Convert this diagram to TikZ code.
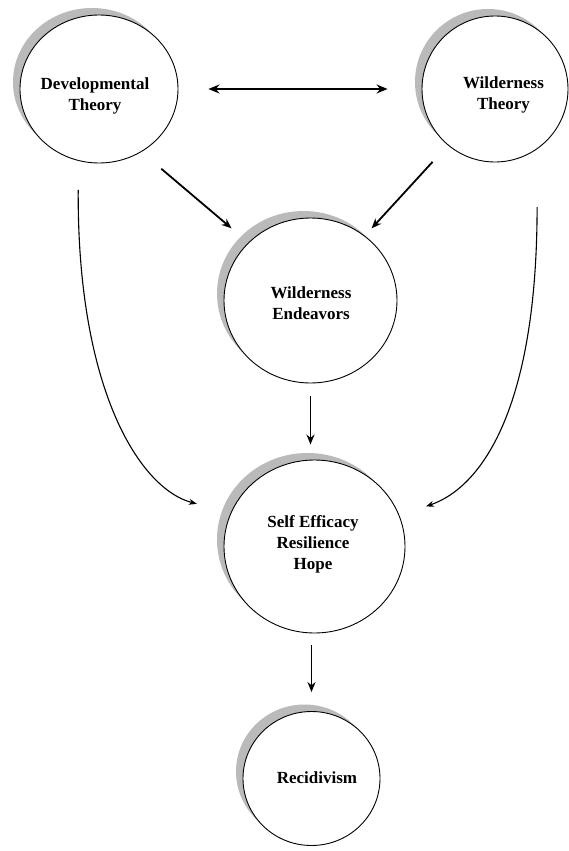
\documentclass[tikz,border=0pt]{standalone}
\usepackage{fontspec}
\setmainfont{Liberation Serif}
\usetikzlibrary{arrows.meta,shapes.geometric,shadows}
\begin{document}
\begin{tikzpicture}[x=1pt,y=-1pt,
  bub/.style={ellipse, draw=black, line width=0.9pt, fill=white, inner sep=0pt,
    drop shadow={shadow xshift=-7pt, shadow yshift=7pt, fill=black!27, opacity=1}},
  lbl/.style={align=center, inner sep=0pt, font=\bfseries\fontsize{17}{21}\selectfont},
  arr/.style={line width=1.8pt, -{Stealth[length=10pt,width=8pt]}},
  darr/.style={line width=1.8pt, {Stealth[length=11pt,width=9pt]}-{Stealth[length=11pt,width=9pt]}},
  carr/.style={line width=1.1pt, -{Stealth[length=8pt,width=6pt]}}]
\useasboundingbox (0,0) rectangle (569,851);
\fill[white] (0,0) rectangle (569,851);

\node[bub, minimum width=158pt, minimum height=148pt] (dev) at (99,89) {};
\node[bub, minimum width=146pt, minimum height=146pt] (wt) at (495,89) {};
\node[bub, minimum width=173pt, minimum height=165pt] (we) at (310.5,300.5) {};
\node[bub, minimum width=181pt, minimum height=173pt] (se) at (314.5,546.5) {};
\node[bub, minimum width=137pt, minimum height=134pt] (rec) at (311.5,778.5) {};

\node[lbl] (devt) at (95,95.5) {Developmental\\Theory};
\node[lbl] (wtt) at (503.5,95) {Wilderness\\Theory};
\node[lbl] (wet) at (311,303) {Wilderness\\Endeavors};
\node[lbl] (set) at (313,544.5) {Self Efficacy\\Resilience\\Hope};
\node[lbl] (rect) at (317,778) {Recidivism};

\draw[darr, shorten <=30pt, shorten >=34pt] (dev.0) -- (wt.180);
\draw[arr, shorten <=26pt, shorten >=22pt] (dev.-56) -- (we.137);
\draw[arr, shorten <=22.5pt, shorten >=10pt] (wt.230) -- (we.50);
\draw[arr, shorten <=13pt, shorten >=15pt] (we.south) -- (we.south |- se.north);
\draw[arr, shorten <=12pt, shorten >=19pt] (rec.north |- se.south) -- (rec.north);

\draw[carr, shorten <=29pt, shorten >=35pt] (dev.254) .. controls (77,390) and (140,489) .. (se.158);
\draw[carr, shorten <=58pt, shorten >=28pt] (wt.305) .. controls (537,408) and (482,487) .. (se.20);
\end{tikzpicture}
\end{document}
